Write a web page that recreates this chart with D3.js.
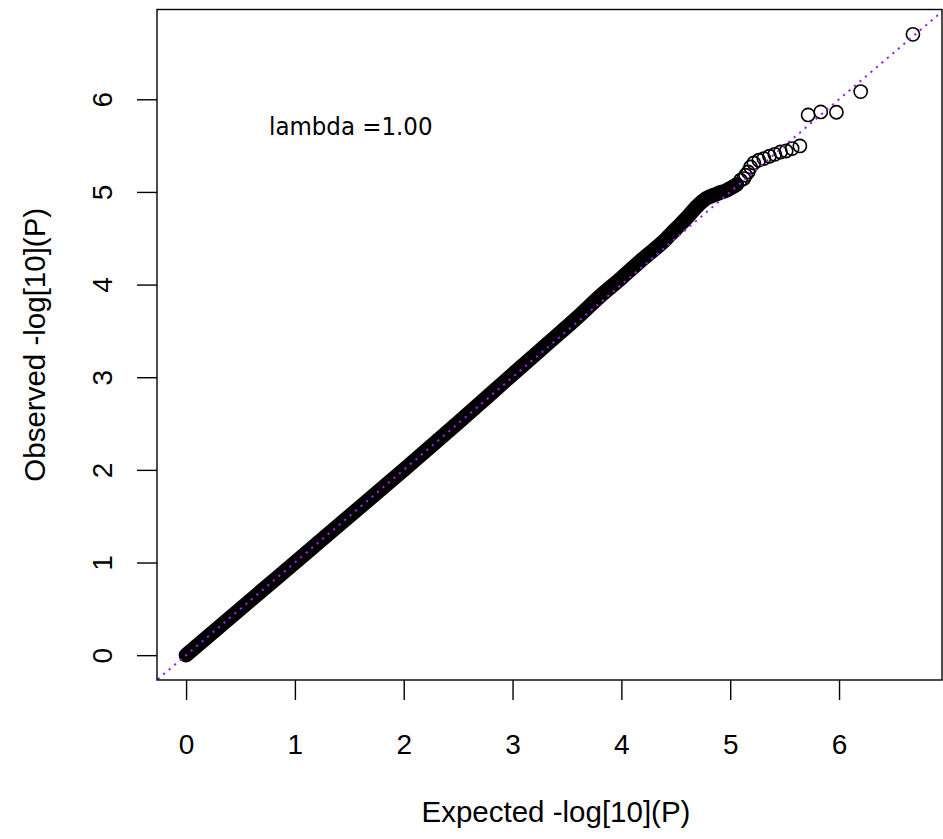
<!DOCTYPE html>
<html>
<head>
<meta charset="utf-8">
<script src="https://cdn.jsdelivr.net/npm/d3@7"></script>
<style>
  html, body { margin: 0; padding: 0; background: #fff; }
  svg { display: block; }
</style>
</head>
<body>
<script>
// Dense body of the QQ plot (overlapping points), read as a centre line: expected, observed
const bandExpected = [0.00, 1.00, 2.00, 2.50, 3.00, 3.30, 3.60, 3.80, 4.00, 4.20, 4.40, 4.50, 4.60, 4.70, 4.78, 4.88, 4.97, 5.06];
const bandObserved = [0.00, 1.00, 2.00, 2.51, 3.03, 3.34, 3.65, 3.87, 4.07, 4.28, 4.48, 4.60, 4.72, 4.85, 4.93, 4.98, 5.02, 5.08];
// Individually visible tail points: expected, observed
const tailExpected = [5.095, 5.126, 5.141, 5.165, 5.187, 5.217, 5.263, 5.309, 5.361, 5.410, 5.462, 5.514, 5.569, 5.640, 5.716, 5.832, 5.976, 6.199, 6.679];
const tailObserved = [5.126, 5.144, 5.180, 5.215, 5.269, 5.312, 5.342, 5.360, 5.385, 5.406, 5.431, 5.442, 5.468, 5.496, 5.831, 5.863, 5.860, 6.083, 6.701];
const xTicks = [0, 1, 2, 3, 4, 5, 6];
const yTicks = [0, 1, 2, 3, 4, 5, 6];
const xTitle = "Expected -log[10](P)";
const yTitle = "Observed -log[10](P)";
const lambdaLabel = "lambda =1.00";

const W = 943, H = 839;
const plot = { left: 157, right: 942, top: 9.5, bottom: 680 };

const svg = d3.select("body").append("svg").attr("width", W).attr("height", H);

function padded(ext) { const d = (ext[1] - ext[0]) * 0.04; return [ext[0] - d, ext[1] + d]; }
const allX = bandExpected.concat(tailExpected);
const allY = bandObserved.concat(tailObserved);
const x = d3.scaleLinear().domain(padded(d3.extent(allX))).range([plot.left, plot.right]);
const y = d3.scaleLinear().domain(padded(d3.extent(allY))).range([plot.bottom, plot.top]);

svg.append("clipPath").attr("id", "clip").append("rect")
  .attr("x", plot.left).attr("y", plot.top)
  .attr("width", plot.right - plot.left).attr("height", plot.bottom - plot.top);

const R = 6.6, SW = 1.6;

// dense band
const band = bandExpected.map((e, i) => [e, bandObserved[i]]);
svg.append("path")
  .datum(band)
  .attr("d", d3.line().x(d => x(d[0])).y(d => y(d[1])).curve(d3.curveMonotoneX))
  .attr("fill", "none").attr("stroke", "#000")
  .attr("stroke-width", 2 * R + SW)
  .attr("stroke-linecap", "round").attr("stroke-linejoin", "round");

// tail circles
const tail = tailExpected.map((e, i) => [e, tailObserved[i]]);
svg.append("g").selectAll("circle").data(tail).join("circle")
  .attr("cx", d => x(d[0])).attr("cy", d => y(d[1])).attr("r", R)
  .attr("fill", "none").attr("stroke", "#000").attr("stroke-width", SW);

// abline y = x
const dom = x.domain();
svg.append("line")
  .attr("clip-path", "url(#clip)")
  .attr("x1", x(dom[0] - 1)).attr("y1", y(dom[0] - 1))
  .attr("x2", x(dom[1] + 1)).attr("y2", y(dom[1] + 1))
  .attr("stroke", "#A020F0").attr("stroke-width", 2)
  .attr("stroke-dasharray", "2.2,5");

// box
svg.append("rect")
  .attr("x", plot.left).attr("y", plot.top)
  .attr("width", plot.right - plot.left).attr("height", plot.bottom - plot.top)
  .attr("fill", "none").attr("stroke", "#000").attr("stroke-width", 1.4);

const axisFont = "'Liberation Sans', Arial, sans-serif";

// x axis
const xa = svg.append("g").attr("transform", `translate(0,${plot.bottom})`)
  .call(d3.axisBottom(x).tickValues(xTicks).tickSize(20).tickPadding(0).tickFormat(d3.format("d")));
xa.select(".domain").remove();
xa.selectAll("line").attr("stroke", "#000").attr("stroke-width", 1.4);
xa.selectAll("text").attr("font-family", axisFont).attr("font-size", 28).attr("fill", "#000")
  .attr("dy", null).attr("y", 74);

// y axis
const ya = svg.append("g").attr("transform", `translate(${plot.left},0)`)
  .call(d3.axisLeft(y).tickValues(yTicks).tickSize(20).tickPadding(0).tickFormat(d3.format("d")));
ya.select(".domain").remove();
ya.selectAll("line").attr("stroke", "#000").attr("stroke-width", 1.4);
ya.selectAll("text").attr("font-family", axisFont).attr("font-size", 28).attr("fill", "#000")
  .attr("x", null).attr("dy", null).attr("text-anchor", "middle")
  .attr("transform", "translate(-45,0) rotate(-90)");

// titles
svg.append("text").attr("x", 556).attr("y", 822)
  .attr("text-anchor", "middle").attr("font-family", axisFont).attr("font-size", 29.5)
  .text(xTitle);
svg.append("text").attr("transform", `translate(45,${(plot.top + plot.bottom) / 2}) rotate(-90)`)
  .attr("text-anchor", "middle").attr("font-family", axisFont).attr("font-size", 29.5)
  .text(yTitle);

// lambda
svg.append("text").attr("x", 269).attr("y", 135)
  .attr("font-family", "'DejaVu Sans Condensed', 'DejaVu Sans', sans-serif")
  .attr("font-stretch", "condensed")
  .attr("font-size", 25.5).text(lambdaLabel);
</script>
</body>
</html>
